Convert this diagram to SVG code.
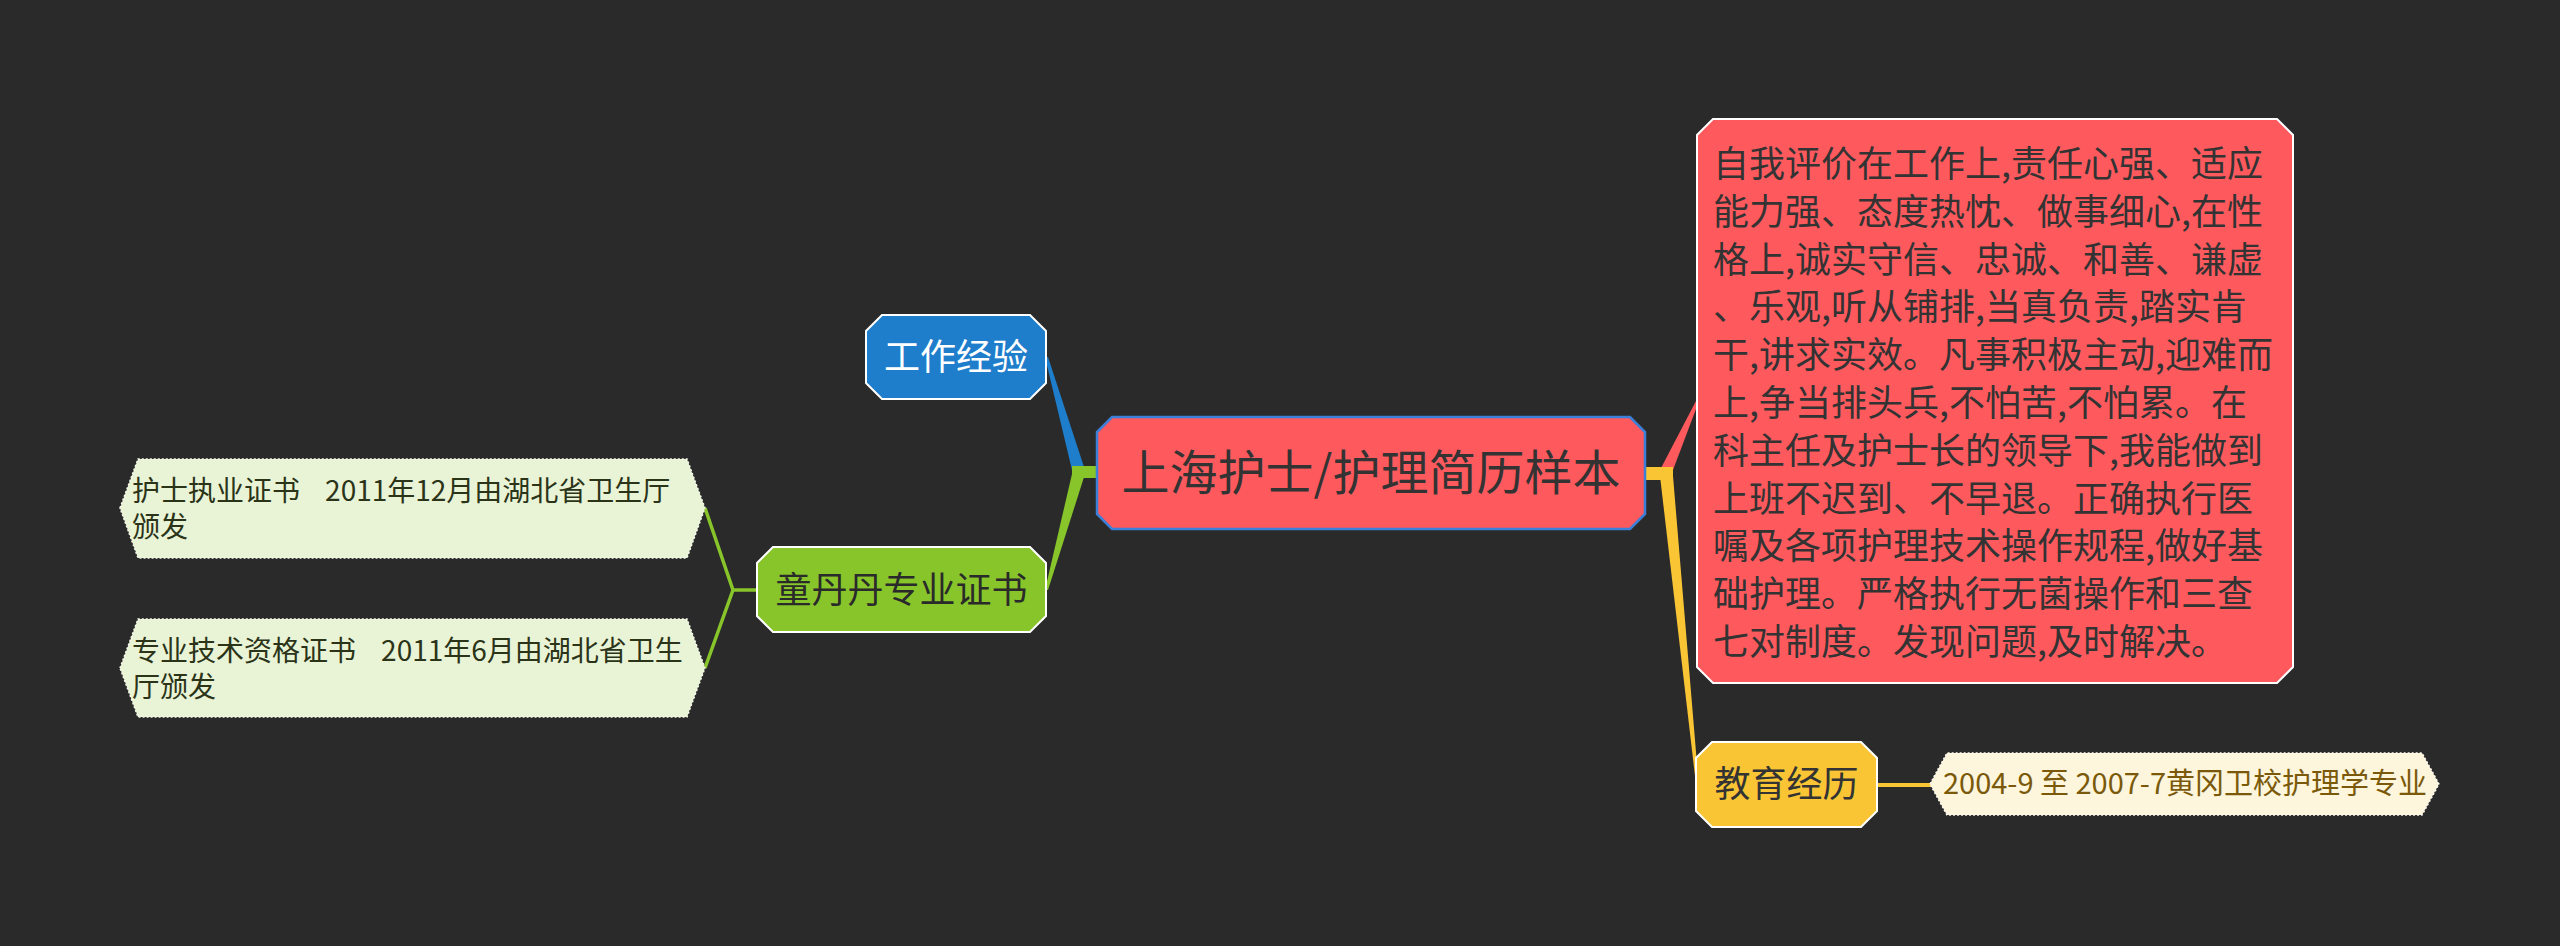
<svg xmlns="http://www.w3.org/2000/svg" width="2560" height="946" viewBox="0 0 2560 946">
<style>
text{font-family:"Noto Sans CJK SC","Noto Sans",sans-serif;}
.main{fill:#fe5a5e;stroke:#3b7fd8;stroke-width:2.5;}
.sub{stroke:#ffffff;stroke-width:2;}
.leafg{fill:#e9f3d5;stroke:#f4f9ea;stroke-width:1.5;stroke-dasharray:2 2;}
.leafy{fill:#fdf5dc;stroke:#fffaf0;stroke-width:1.5;stroke-dasharray:2 2;}
.t-dark{fill:#333333;}
</style>
<rect x="0" y="0" width="2560" height="946" fill="#2a2a2a"/>
<g id="connectors">
  <polygon points="1072,470 1085,470 1048,357 1045,357" fill="#1e7ecb"/>
  <polygon points="1072,474 1085,474 1048,590 1045,590" fill="#88c52a"/>
  <rect x="1072" y="466" width="26" height="12" fill="#88c52a"/>
  <polygon points="1660,470 1673,470 1699,401 1696,401" fill="#fe5a5e"/>
  <polygon points="1660,476 1673,476 1698,776 1695,776" fill="#f9c535"/>
  <rect x="1644" y="467" width="29" height="13" fill="#f9c535"/>
  <line x1="1877" y1="785" x2="1931" y2="785" stroke="#f9c535" stroke-width="4"/>
  <polyline points="757,590 733,590 705,508" fill="none" stroke="#88c52a" stroke-width="3.5" stroke-linejoin="miter"/>
  <polyline points="733,590 705,668" fill="none" stroke="#88c52a" stroke-width="3.5"/>
</g>
<g id="node-center">
  <path class="main" d="M1112,417 H1630 L1645,432 V514 L1630,529 H1112 L1097,514 V432 Z"/>
  <text x="1371" y="490" font-size="48" text-anchor="middle" class="t-dark">上海护士/护理简历样本</text>
</g>
<g id="node-work">
  <path class="sub" fill="#1e7ecb" d="M882,315 H1030 L1046,331 V383 L1030,399 H882 L866,383 V331 Z"/>
  <text x="956" y="370" font-size="36" text-anchor="middle" fill="#ffffff">工作经验</text>
</g>
<g id="node-cert">
  <path class="sub" fill="#88c52a" d="M773,547 H1030 L1046,563 V616 L1030,632 H773 L757,616 V563 Z"/>
  <text x="901.5" y="603" font-size="36" text-anchor="middle" fill="#2a2a2a">童丹丹专业证书</text>
</g>
<g id="leaf-cert-1">
  <polygon class="leafg" points="120,508 138,459 687,459 705,508 687,558 138,558"/>
  <text font-size="28" fill="#2b3318" xml:space="preserve"><tspan x="132" y="501">护士执业证书    2011年12月由湖北省卫生厅</tspan><tspan x="132" y="537">颁发</tspan></text>
</g>
<g id="leaf-cert-2">
  <polygon class="leafg" points="120,668 138,619 687,619 705,668 687,717 138,717"/>
  <text font-size="28" fill="#2b3318" xml:space="preserve"><tspan x="132" y="661">专业技术资格证书    2011年6月由湖北省卫生</tspan><tspan x="132" y="697">厅颁发</tspan></text>
</g>
<g id="node-self">
  <path class="sub" fill="#fe5a5e" d="M1713,119 H2277 L2293,135 V667 L2277,683 H1713 L1697,667 V135 Z"/>
  <text font-size="36" class="t-dark">
    <tspan x="1713" y="177">自我评价在工作上,责任心强、适应</tspan>
    <tspan x="1713" y="224.8">能力强、态度热忱、做事细心,在性</tspan>
    <tspan x="1713" y="272.6">格上,诚实守信、忠诚、和善、谦虚</tspan>
    <tspan x="1713" y="320.4">、乐观,听从铺排,当真负责,踏实肯</tspan>
    <tspan x="1713" y="368.2">干,讲求实效。凡事积极主动,迎难而</tspan>
    <tspan x="1713" y="416">上,争当排头兵,不怕苦,不怕累。在</tspan>
    <tspan x="1713" y="463.8">科主任及护士长的领导下,我能做到</tspan>
    <tspan x="1713" y="511.6">上班不迟到、不早退。正确执行医</tspan>
    <tspan x="1713" y="559.4">嘱及各项护理技术操作规程,做好基</tspan>
    <tspan x="1713" y="607.2">础护理。严格执行无菌操作和三查</tspan>
    <tspan x="1713" y="655">七对制度。发现问题,及时解决。</tspan>
  </text>
</g>
<g id="node-edu">
  <path class="sub" fill="#f9c535" d="M1712,742 H1861 L1877,758 V811 L1861,827 H1712 L1696,811 V758 Z"/>
  <text x="1786.5" y="797" font-size="36" text-anchor="middle" class="t-dark">教育经历</text>
</g>
<g id="leaf-edu">
  <polygon class="leafy" points="1930,784 1947,753 2422,753 2439,784 2422,815 1947,815"/>
  <text x="2185" y="794" font-size="29" text-anchor="middle" fill="#7a5a0a">2004-9 至 2007-7黄冈卫校护理学专业</text>
</g>
</svg>
